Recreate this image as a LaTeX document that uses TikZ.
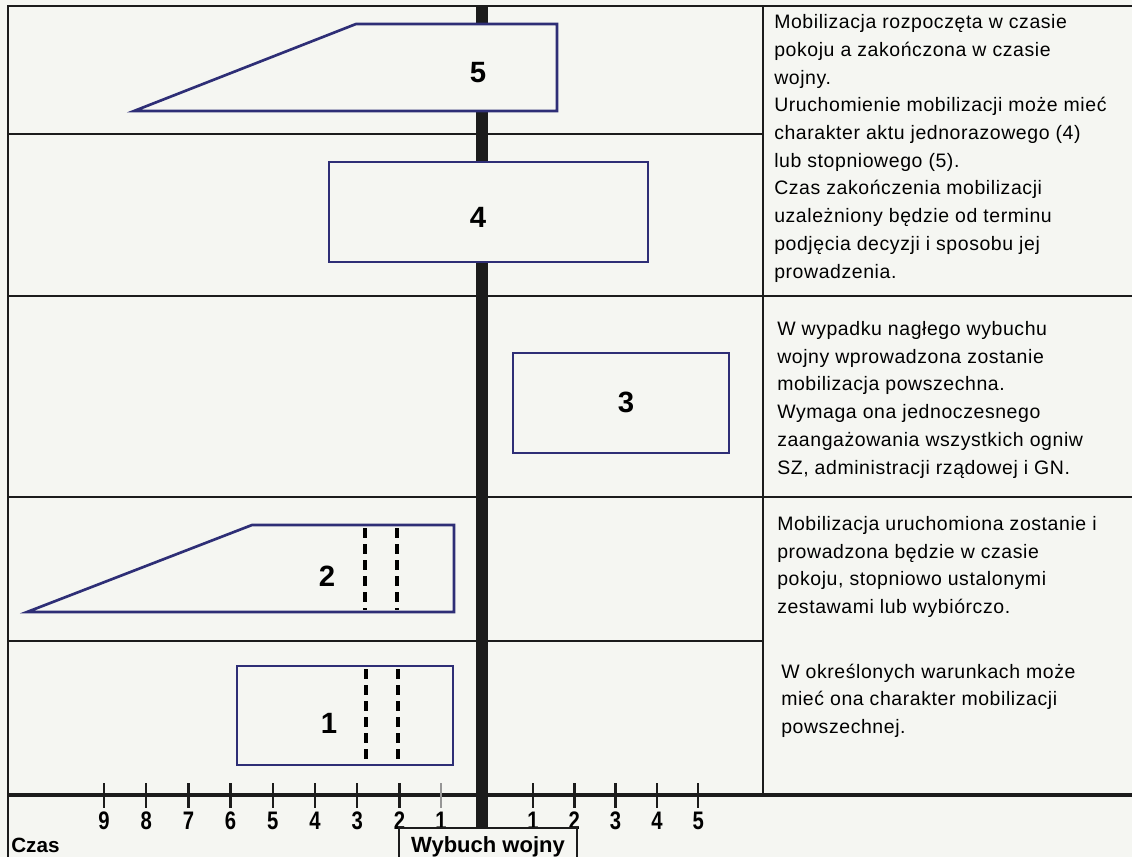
\documentclass[tikz,border=0pt]{standalone}
\usepackage{fontspec}
\setmainfont{Liberation Sans}
\newfontfamily\bodyfont[LetterSpace=3]{Liberation Sans}
\newfontfamily\narrowfont[FakeStretch=0.8]{Liberation Sans Bold}
\definecolor{bgc}{RGB}{245,246,242}
\definecolor{boxc}{RGB}{46,46,118}
\definecolor{linec}{RGB}{28,28,28}
\definecolor{greyc}{RGB}{150,150,150}
\begin{document}
\begin{tikzpicture}[x=0.75pt,y=-0.75pt,
  frame/.style={draw=linec, line width=1.6pt},
  axisline/.style={draw=linec, line width=2.4pt},
  mbox/.style={draw=boxc, fill=bgc, line width=2pt, line join=miter},
  dashv/.style={draw=black, line width=3pt, dash pattern=on 7.5pt off 4.5pt},
  numlab/.style={inner sep=0pt, font=\bfseries\fontsize{22}{26}\selectfont},
  txt/.style={inner sep=0pt, anchor=north west, align=left, font=\bodyfont\fontsize{14.6}{20.8}\selectfont},
  ticklab/.style={inner sep=0pt, font=\fontsize{19}{21}\narrowfont},
  tickmark/.style={draw=linec, line width=1.8pt},
  biglab/.style={inner sep=0pt, font=\bfseries\fontsize{15.5}{18}\selectfont}]
\fill[bgc] (0,0) rectangle (1132,857);
\useasboundingbox (0,0) rectangle (1132,857);

% table frame
\draw[frame] (1132,6) -- (8,6) -- (8,857);
\draw[frame] (8,134) -- (763,134);
\draw[frame] (8,296) -- (1132,296);
\draw[frame] (8,497) -- (1132,497);
\draw[frame] (8,641) -- (763,641);
\draw[frame] (763,6) -- (763,795);

% thick war line
\draw[draw=linec, line width=9pt] (482,6) -- (482,828);

% time axis
\draw[axisline] (8,795) -- (1132,795);
\foreach \i/\v in {0/9,1/8,2/7,3/6,4/5,5/4,6/3,7/2}{
  \draw[tickmark] ({104+42.2*\i},783) -- ({104+42.2*\i},808);
  \node[ticklab] (tl\v) at ({104+42.2*\i},821) {\v};
}
\draw[tickmark, draw=greyc] (441,783) -- (441,808);
\node[ticklab] (tl1) at (441,821) {1};
\foreach \i/\v in {0/1,1/2,2/3,3/4,4/5}{
  \draw[tickmark] ({533+41.3*\i},783) -- ({533+41.3*\i},808);
  \node[ticklab] (tr\v) at ({533+41.3*\i},821) {\v};
}
\node[biglab, anchor=west] (czas) at (11,845) {Czas};
\draw[draw=linec, line width=1.8pt, fill=bgc] (399,870) -- (399,828) -- (577,828) -- (577,870);
\node[biglab, font=\bfseries\fontsize{16.5}{19}\selectfont] (wyb) at (488,847) {Wybuch wojny};

% box 5
\draw[mbox] (134,111) -- (356,24) -- (557,24) -- (557,111) -- cycle;
\node[numlab] (n5) at (478,73) {5};
% box 4
\draw[mbox] (329,162) rectangle (648,262);
\node[numlab] (n4) at (478,217) {4};
% box 3
\draw[mbox] (513,353) rectangle (729,453);
\node[numlab] (n3) at (626,402) {3};
% box 2
\draw[mbox] (27,612) -- (252,525) -- (454,525) -- (454,612) -- cycle;
\draw[dashv] (365,528) -- (365,610);
\draw[dashv] (397,528) -- (397,610);
\node[numlab] (n2) at (327,576) {2};
% box 1
\draw[mbox] (237,666) rectangle (453,765);
\draw[dashv] (366,669) -- (366,762);
\draw[dashv] (398,669) -- (398,762);
\node[numlab] (n1) at (329,723) {1};

% descriptions
\node[txt] (ta) at (774,14.2) {Mobilizacja rozpoczęta w czasie\\pokoju a zakończona w czasie\\wojny.\\Uruchomienie mobilizacji może mieć\\charakter aktu jednorazowego (4)\\lub stopniowego (5).\\Czas zakończenia mobilizacji\\uzależniony będzie od terminu\\podjęcia decyzji i sposobu jej\\prowadzenia.};
\node[txt] (tb) at (777,321) {W wypadku nagłego wybuchu\\wojny wprowadzona zostanie\\mobilizacja powszechna.\\Wymaga ona jednoczesnego\\zaangażowania wszystkich ogniw\\SZ, administracji rządowej i GN.};
\node[txt] (tc) at (777,516) {Mobilizacja uruchomiona zostanie i\\prowadzona będzie w czasie\\pokoju, stopniowo ustalonymi\\zestawami lub wybiórczo.};
\node[txt] (td) at (781,663.5) {W określonych warunkach może\\mieć ona charakter mobilizacji\\powszechnej.};
\end{tikzpicture}
\end{document}
